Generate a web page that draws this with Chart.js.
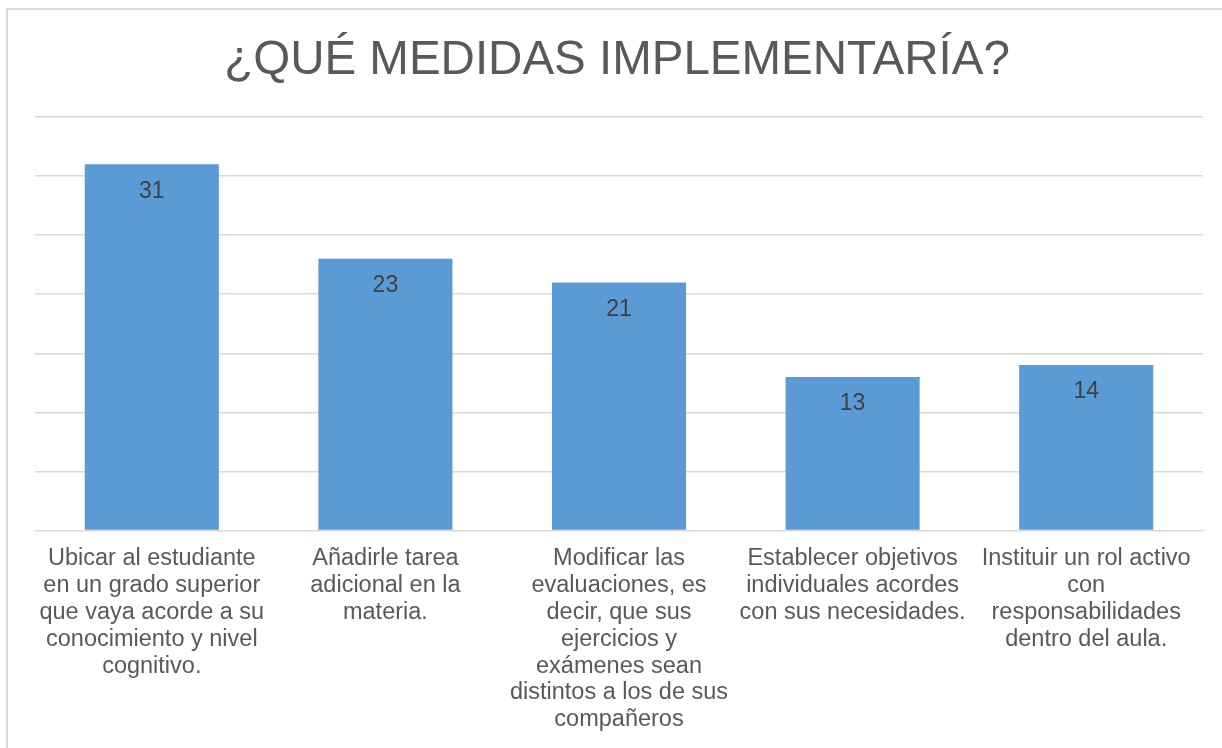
<!DOCTYPE html>
<html>
<head>
<meta charset="utf-8">
<script src="https://cdn.jsdelivr.net/npm/chart.js@4"></script>
<style>
  html, body { margin: 0; padding: 0; background: #fff; }
  #wrap { position: relative; width: 1222px; height: 748px; overflow: hidden; }
  #frame { position: absolute; left: 6px; top: 8px; width: 1240px; height: 780px; border: 2px solid #d9d9d9; box-sizing: border-box; pointer-events: none; }
  canvas { position: absolute; left: 0; top: 0; }
</style>
</head>
<body>
<div id="wrap">
  <canvas id="c" width="1222" height="748"></canvas>
  <div id="frame"></div>
</div>
<script>
const chartTitle = "¿QUÉ MEDIDAS IMPLEMENTARÍA?";
const categories = [
  ["Ubicar al estudiante", "en un grado superior", "que vaya acorde a su", "conocimiento y nivel", "cognitivo."],
  ["Añadirle tarea", "adicional en la", "materia."],
  ["Modificar las", "evaluaciones, es", "decir, que sus", "ejercicios y", "exámenes sean", "distintos a los de sus", "compañeros"],
  ["Establecer objetivos", "individuales acordes", "con sus necesidades."],
  ["Instituir un rol activo", "con", "responsabilidades", "dentro del aula."]
];
const values = [31, 23, 21, 13, 14];
const yMax = 35;
const yStep = 5;

const valueLabels = {
  id: 'valueLabels',
  afterDatasetsDraw(chart) {
    const ctx = chart.ctx;
    const meta = chart.getDatasetMeta(0);
    ctx.save();
    ctx.font = '23px "Liberation Sans", Arial, sans-serif';
    ctx.fillStyle = '#404040';
    ctx.textAlign = 'center';
    ctx.textBaseline = 'middle';
    meta.data.forEach((bar, i) => {
      ctx.fillText(String(values[i]), bar.x, bar.y + 27);
    });
    ctx.restore();
  }
};

const titlePlugin = {
  id: 'titlePlugin',
  afterDraw(chart) {
    const ctx = chart.ctx;
    const area = chart.chartArea;
    ctx.save();
    ctx.font = '47.5px "Liberation Sans", Arial, sans-serif';
    ctx.fillStyle = '#595959';
    ctx.textAlign = 'center';
    ctx.textBaseline = 'alphabetic';
    ctx.fillText(chartTitle, (area.left + area.right) / 2 - 2, 74);
    ctx.restore();
  }
};

new Chart(document.getElementById('c'), {
  type: 'bar',
  data: {
    labels: categories,
    datasets: [{
      data: values,
      backgroundColor: '#5b9bd5',
      borderWidth: 0,
      categoryPercentage: 1.0,
      barPercentage: 0.574
    }]
  },
  options: {
    responsive: false,
    animation: false,
    devicePixelRatio: 1,
    layout: { padding: { left: 35, right: 19, top: 117, bottom: 0 } },
    plugins: {
      legend: { display: false },
      tooltip: { enabled: false },
      title: { display: false }
    },
    scales: {
      x: {
        grid: { display: false, drawTicks: false },
        border: { display: true, color: '#d9d9d9', width: 1 },
        ticks: {
          color: '#595959',
          font: { family: '"Liberation Sans", Arial, sans-serif', size: 23.5, lineHeight: 1.14 },
          maxRotation: 0,
          minRotation: 0,
          autoSkip: false,
          padding: 15
        }
      },
      y: {
        min: 0,
        max: yMax,
        ticks: { display: false, stepSize: yStep },
        grid: { color: '#d9d9d9', lineWidth: 1.5, drawTicks: false },
        border: { display: false }
      }
    }
  },
  plugins: [valueLabels, titlePlugin]
});
</script>
</body>
</html>
